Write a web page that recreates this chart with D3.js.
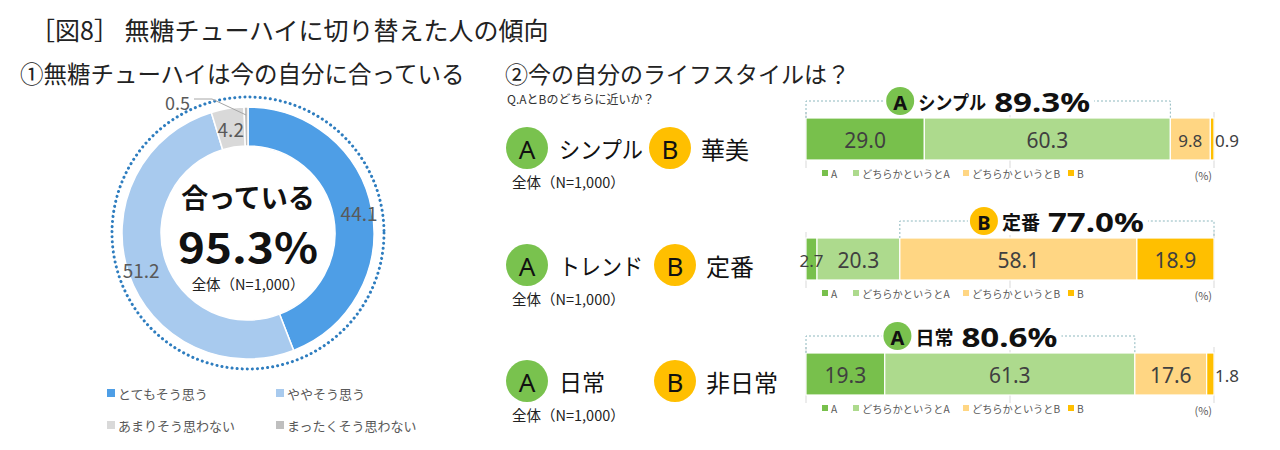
<!DOCTYPE html>
<html><head><meta charset="utf-8">
<script src="https://cdn.jsdelivr.net/npm/d3@7"></script>
<style>
html,body{margin:0;padding:0;background:#fff;}
svg{display:block;font-family:"Noto Sans CJK JP","Noto Sans",sans-serif;}
</style></head>
<body><svg id="c" width="1280" height="450"></svg>
<script>
// ---- data ----
const donutLabels = ["とてもそう思う","ややそう思う","あまりそう思わない","まったくそう思わない"];
const donutValues = [44.1, 51.2, 4.2, 0.5];
const donutColors = ["#4E9EE6","#A8CAEE","#D9D9D9","#BFBFBF"];

const barSeries = ["A","どちらかというとA","どちらかというとB","B"];
const barColors = ["#78C04C","#ADDA8D","#FFD683","#FFBF00"];
const rowA = ["シンプル","トレンド","日常"];
const rowB = ["華美","定番","非日常"];
const row1Values = [29.0, 60.3, 9.8, 0.9];
const row2Values = [2.7, 20.3, 58.1, 18.9];
const row3Values = [19.3, 61.3, 17.6, 1.8];
const rowValues = [row1Values, row2Values, row3Values];
const highlightSide = ["A","B","A"];
const highlightName = ["シンプル","定番","日常"];
const highlightPct = ["89.3%","77.0%","80.6%"];
const axisTicks = [0, 50, 100];

const svg = d3.select("#c");
const txt = "#595959";

// ---- titles ----
svg.append("text").attr("x",30).attr("y",40).attr("font-size",25).attr("fill","#222")
  .text("［図8］ 無糖チューハイに切り替えた人の傾向");
svg.append("text").attr("x",20).attr("y",83).attr("font-size",23.5).attr("fill","#222")
  .text("①無糖チューハイは今の自分に合っている");
svg.append("text").attr("x",505).attr("y",83).attr("font-size",23).attr("fill","#222")
  .text("②今の自分のライフスタイルは？");

// ---- donut ----
const cx = 248, cy = 233, rO = 126, rI = 87;
const g = svg.append("g").attr("transform",`translate(${cx},${cy})`);
g.append("circle").attr("r",136).attr("fill","none").attr("stroke","#2E7DBF")
  .attr("stroke-width",3).attr("stroke-dasharray","0.1 5").attr("stroke-linecap","round");
const pie = d3.pie().sort(null).value(d=>d)(donutValues);
const arc = d3.arc().innerRadius(rI).outerRadius(rO);
g.selectAll("path.s").data(pie).join("path").attr("class","s")
  .attr("d",arc).attr("fill",(d,i)=>donutColors[i]).attr("stroke","#fff").attr("stroke-width",1.5);
// labels
const labArc = d3.arc().innerRadius(113).outerRadius(113);
const smallArc = d3.arc().innerRadius(106).outerRadius(106);
[0,1,2].forEach(i=>{
  const p = i===2 ? smallArc.centroid(pie[i]) : labArc.centroid(pie[i]);
  g.append("text").attr("x",p[0]).attr("y",p[1]).attr("text-anchor","middle")
   .attr("dominant-baseline","central").attr("font-size",19).attr("fill",txt)
   .text(donutValues[i].toFixed(1));
});
// 0.5 leader
const p3 = d3.arc().innerRadius(rO-8).outerRadius(rO-8).centroid(pie[3]);
g.append("polyline").attr("points",`${-54},${-134} ${-36},${-134} ${p3[0]},${p3[1]}`)
  .attr("fill","none").attr("stroke","#A6A6A6").attr("stroke-width",1);
g.append("text").attr("x",-58).attr("y",-131).attr("text-anchor","end")
  .attr("dominant-baseline","central").attr("font-size",18).attr("fill",txt).text(donutValues[3].toFixed(1));
// center
g.append("text").attr("y",-37).attr("text-anchor","middle").attr("dominant-baseline","central")
  .attr("font-size",27).attr("font-weight","bold").attr("fill","#111").text("合っている");
g.append("text").attr("y",12).attr("text-anchor","middle").attr("dominant-baseline","central")
  .attr("font-size",41).attr("font-weight","bold").attr("fill","#111")
  .attr("textLength",140).attr("lengthAdjust","spacingAndGlyphs").text("95.3%");
g.append("text").attr("y",50).attr("text-anchor","middle").attr("dominant-baseline","central")
  .attr("font-size",14.5).attr("fill","#222").text("全体（N=1,000）");
// legend
const legPos = [[107,393],[276,393],[107,425],[276,425]];
donutLabels.forEach((l,i)=>{
  svg.append("rect").attr("x",legPos[i][0]).attr("y",legPos[i][1]-4).attr("width",8).attr("height",8).attr("fill",donutColors[i]);
  svg.append("text").attr("x",legPos[i][0]+11).attr("y",legPos[i][1]).attr("dominant-baseline","central")
    .attr("font-size",13).attr("fill",txt).text(l);
});

// ---- right side ----
svg.append("text").attr("x",507).attr("y",104).attr("font-size",12).attr("fill","#333").text("Q.AとBのどちらに近いか？");

const x = d3.scaleLinear().domain([0,100]).range([806,1214]);
const barTops = [118, 238, 353];
const barH = 42;
const rowCY = [148, 265, 381];
const bCircleX = [670, 675, 675];

function badge(parent, cxp, cyp, r, letter, fs, bold){
  parent.append("circle").attr("cx",cxp).attr("cy",cyp).attr("r",r).attr("fill", letter==="A"?"#79C24E":"#FFBF00");
  parent.append("text").attr("x",cxp).attr("y",cyp+1).attr("text-anchor","middle").attr("dominant-baseline","central")
    .attr("font-size",fs).attr("font-weight",bold?"bold":"normal").attr("fill","#111").attr("font-family","'Noto Sans',sans-serif").text(letter);
}

rowValues.forEach((vals,ri)=>{
  const cyR = rowCY[ri];
  badge(svg, 527, cyR, 21, "A", 26, false);
  const ta = svg.append("text").attr("x",559).attr("y",cyR).attr("dominant-baseline","central").attr("font-size",23).attr("fill","#111").text(rowA[ri]);
  if(ta.node().getComputedTextLength() > 86){ ta.attr("textLength",84).attr("lengthAdjust","spacingAndGlyphs"); }
  badge(svg, bCircleX[ri], cyR, 21, "B", 26, false);
  svg.append("text").attr("x",bCircleX[ri]+31).attr("y",cyR).attr("dominant-baseline","central").attr("font-size",24).attr("fill","#111").text(rowB[ri]);
  svg.append("text").attr("x",512).attr("y",cyR+33).attr("dominant-baseline","central").attr("font-size",14.5).attr("fill","#222").text("全体（N=1,000）");

  const top = barTops[ri];
  // gridlines
  axisTicks.forEach(t=>{
    svg.append("line").attr("x1",x(t)).attr("x2",x(t)).attr("y1",top-6).attr("y2",top+barH+8)
      .attr("stroke","#D9D9D9").attr("stroke-width",1);
  });
  // stacked segments
  let acc = 0;
  const segs = vals.map((v,i)=>{ const s={v,i,x0:acc,x1:acc+v}; acc+=v; return s; });
  svg.selectAll(null).data(segs).join("rect")
    .attr("x",d=>x(d.x0)).attr("y",top).attr("width",d=>x(d.x1)-x(d.x0)).attr("height",barH)
    .attr("fill",d=>barColors[d.i]).attr("stroke","#fff").attr("stroke-width",1.2);
  segs.forEach(d=>{
    let lx = (x(d.x0)+x(d.x1))/2;
    if(d.i===3 && d.v<5) lx = x(100)+13;
    svg.append("text").attr("x",lx).attr("y",top+barH/2+1).attr("text-anchor","middle").attr("dominant-baseline","central")
      .attr("font-size", d.v<12 ? 17 : 21).attr("fill","#404040").attr("font-family","'Noto Sans',sans-serif").text(d.v.toFixed(1));
  });
  // bracket
  const side = highlightSide[ri];
  const b0 = side==="A" ? x(0) : x(vals[0]+vals[1]);
  const b1 = side==="A" ? x(vals[0]+vals[1]) : x(100);
  const by = top-17;
  svg.append("path").attr("d",`M${b0},${top} V${by} H${b1} V${top}`).attr("fill","none")
    .attr("stroke","#8DB8BE").attr("stroke-width",1).attr("stroke-dasharray","2 2");
  // bracket label
  const lg = svg.append("g");
  const nm = lg.append("text").attr("x",0).attr("y",by).attr("dominant-baseline","central").attr("font-size",19).attr("font-weight","bold").attr("fill","#111").text(highlightName[ri]);
  if(nm.node().getComputedTextLength() > 60){ nm.attr("textLength",68).attr("lengthAdjust","spacingAndGlyphs"); }
  const pc = lg.append("text").attr("y",by).attr("dominant-baseline","central").attr("font-size",27).attr("font-weight","bold").attr("fill","#111").attr("font-family","'Noto Sans',sans-serif")
    .attr("textLength",96).attr("lengthAdjust","spacingAndGlyphs").text(highlightPct[ri]);
  const r = 14;
  const wN = Math.min(nm.node().getComputedTextLength(), 68), wP = 96;
  const total = 2*r + 4 + wN + 8 + wP;
  const start = (b0+b1)/2 - total/2;
  lg.insert("rect","text").attr("x",start-2).attr("y",by-16).attr("width",total+6).attr("height",30).attr("fill","#fff");
  badge(lg, start+r, by, r, side, 20, true);
  nm.attr("x", start+2*r+4);
  pc.attr("x", start+2*r+4+wN+8);
  // legend
  const ly = top+barH+13;
  const legX = [822, 853, 963, 1068];
  barSeries.forEach((s,i)=>{
    svg.append("rect").attr("x",legX[i]).attr("y",ly-3).attr("width",6).attr("height",6).attr("fill",barColors[i]);
    svg.append("text").attr("x",legX[i]+9).attr("y",ly).attr("dominant-baseline","central").attr("font-size",10.2).attr("fill",txt).text(s);
  });
  svg.append("text").attr("x",1212).attr("y",ly+2).attr("text-anchor","end").attr("dominant-baseline","central").attr("font-size",11).attr("fill",txt).text("(%)");
});
</script></body></html>
